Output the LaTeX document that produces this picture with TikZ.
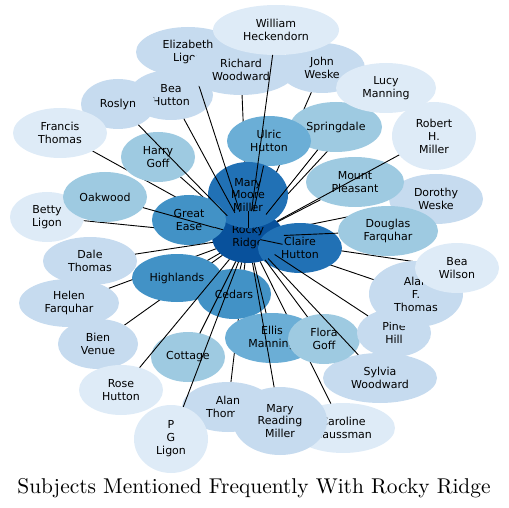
\documentclass[tikz,border=0pt]{standalone}
\usepackage{fontspec}
\newfontfamily\bubfont{DejaVu Sans}
\newfontfamily\titlefont{lmroman10-regular}[Extension=.otf]
\usetikzlibrary{shapes.geometric}
\definecolor{c1}{HTML}{08519C}
\definecolor{c2}{HTML}{2171B5}
\definecolor{c3}{HTML}{4292C6}
\definecolor{c4}{HTML}{6BAED6}
\definecolor{c5}{HTML}{9ECAE1}
\definecolor{c6}{HTML}{C6DBEF}
\definecolor{c7}{HTML}{DEEBF7}
\newcommand\bubdef[5]{\node[hid,minimum width=#4pt,minimum height=#5pt] (#1) at (#2,#3) {};\tikzset{#1-size/.style={minimum width=#4pt,minimum height=#5pt}}}
\newcommand\bubshow[3]{\node[bub,#1-size,fill=#2] (#1-t) at (#1.center) {#3};}
\newcommand\bublink[1]{\draw[edgeline] (rr) -- (#1);}
\begin{document}
\begin{tikzpicture}[x=1pt,y=-1pt,
  hid/.style={ellipse,inner sep=0pt,outer sep=0pt},
  bub/.style={ellipse,inner sep=0pt,outer sep=0pt,align=center,text=black,
    font=\bubfont\fontsize{11}{12.9}\selectfont},
  edgeline/.style={line width=0.9pt,black}]
\useasboundingbox (0,0) rectangle (509,508);
% geometry of every bubble
\bubdef{rr}{248}{237}{72}{52}
\bubdef{mmm}{248}{195}{80}{66}
\bubdef{ch}{300}{248}{84}{50}
\bubdef{ge}{189}{220}{74}{50}
\bubdef{hl}{177}{278}{90}{48}
\bubdef{ce}{234}{294}{74}{50}
\bubdef{uh}{269}{141}{84}{50}
\bubdef{em}{272}{338}{94}{50}
\bubdef{sp}{336}{127}{92}{50}
\bubdef{mp}{355}{182}{98}{50}
\bubdef{df}{388}{231}{100}{50}
\bubdef{hg}{158}{157}{74}{50}
\bubdef{ow}{105}{197}{84}{50}
\bubdef{co}{188}{357}{74}{50}
\bubdef{fg}{324}{339}{72}{50}
\bubdef{el}{188}{52}{104}{50}
\bubdef{rw}{241}{70}{110}{50}
\bubdef{jw}{322}{68}{86}{50}
\bubdef{bh}{171}{95}{84}{50}
\bubdef{ro}{118}{104}{74}{50}
\bubdef{dw}{436}{199}{94}{50}
\bubdef{aft}{416}{294}{94}{66}
\bubdef{ph}{394}{333}{74}{48}
\bubdef{sw}{380}{378}{114}{50}
\bubdef{mrm}{280}{421}{94}{68}
\bubdef{at}{228}{407}{92}{50}
\bubdef{bv}{98}{344}{80}{50}
\bubdef{hf}{69}{303}{100}{48}
\bubdef{dt}{90}{261}{94}{48}
\bubdef{wh}{276}{30}{126}{50}
\bubdef{lm}{386}{88}{100}{50}
\bubdef{rhm}{434}{136}{84}{68}
\bubdef{ft}{60}{133}{94}{50}
\bubdef{bl}{47}{217}{74}{50}
\bubdef{bw}{457}{268}{84}{50}
\bubdef{chs}{343}{428}{104}{50}
\bubdef{pg}{171}{439}{74}{68}
\bubdef{rh}{121}{390}{84}{50}
% drawing, back to front
\bubshow{rr}{c1}{Rocky\\Ridge}
\bublink{hg}\bublink{ft}\bublink{bl}\bublink{hf}\bublink{bv}\bublink{at}
\bublink{chs}\bublink{aft}\bublink{bw}\bublink{dw}\bublink{lm}\bublink{jw}\bublink{rw}
\bubshow{el}{c6}{Elizabeth\\Ligon}
\bubshow{bh}{c6}{Bea\\Hutton}
\bubshow{ro}{c6}{Roslyn}
\bubshow{sp}{c5}{Springdale}
\bubshow{uh}{c4}{Ulric\\Hutton}
\bubshow{mmm}{c2}{Mary\\Moore\\Miller}
\bublink{el}
\bubshow{rw}{c6}{Richard\\Woodward}
\bubshow{jw}{c6}{John\\Weske}
\bubshow{wh}{c7}{William\\Heckendorn}
\bubshow{lm}{c7}{Lucy\\Manning}
\bubshow{rhm}{c7}{Robert\\H.\\Miller}
\bubshow{dw}{c6}{Dorothy\\Weske}
\bubshow{mp}{c5}{Mount\\Pleasant}
\bubshow{df}{c5}{Douglas\\Farquhar}
\bubshow{ch}{c2}{Claire\\Hutton}
\bubshow{ge}{c3}{Great\\Ease}
\bubshow{dt}{c6}{Dale\\Thomas}
\bubshow{hl}{c3}{Highlands}
\bubshow{ce}{c3}{Cedars}
\bubshow{em}{c4}{Ellis\\Manning}
\bubshow{sw}{c6}{Sylvia\\Woodward}
\bubshow{fg}{c5}{Flora\\Goff}
\bubshow{ph}{c6}{Pine\\Hill}
\bubshow{aft}{c6}{Alan\\F.\\Thomas}
\bubshow{bw}{c7}{Bea\\Wilson}
\bubshow{chs}{c7}{Caroline\\Haussman}
\bubshow{at}{c6}{Alan\\Thomas}
\bubshow{mrm}{c6}{Mary\\Reading\\Miller}
\bubshow{pg}{c7}{P\\G\\Ligon}
\bubshow{co}{c5}{Cottage}
\bubshow{bv}{c6}{Bien\\Venue}
\bubshow{rh}{c7}{Rose\\Hutton}
\bubshow{hf}{c6}{Helen\\Farquhar}
\bubshow{ft}{c7}{Francis\\Thomas}
\bubshow{bl}{c7}{Betty\\Ligon}
\bubshow{ow}{c5}{Oakwood}
\bubshow{hg}{c5}{Harry\\Goff}
\bublink{wh}\bublink{ro}\bublink{ow}\bublink{ph}\bublink{df}\bublink{sw}
\bublink{mrm}\bublink{co}\bublink{pg}\bublink{rh}\bublink{rhm}\bublink{mp}
\bublink{sp}\bublink{uh}\bublink{mmm}\bublink{ch}\bublink{ge}\bublink{hl}
\bublink{ce}\bublink{em}\bublink{fg}\bublink{dt}\bublink{bh}
\node[anchor=base,inner sep=0pt] (title) at (254,493)
  {\titlefont\fontsize{21.4}{24}\selectfont Subjects Mentioned Frequently With Rocky Ridge};
\end{tikzpicture}
\end{document}
